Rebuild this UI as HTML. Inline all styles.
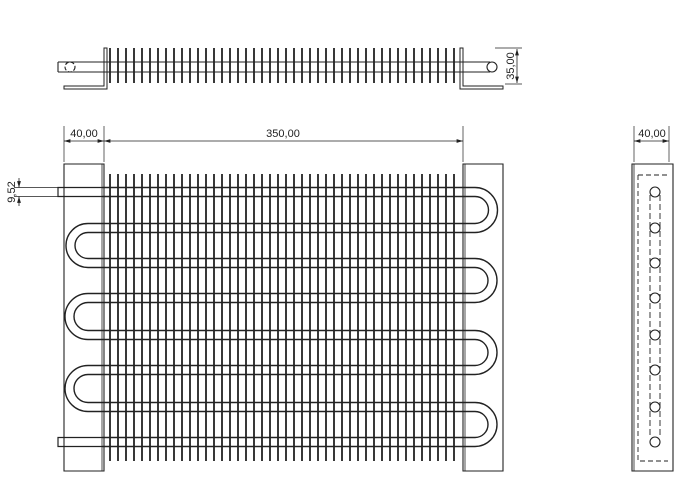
<!DOCTYPE html>
<html><head><meta charset="utf-8"><style>
html,body{margin:0;padding:0;background:#fff;width:700px;height:497px;overflow:hidden}
text{font-family:"Liberation Sans",sans-serif;font-size:11px;fill:#222;stroke:none}
</style></head><body>
<svg width="700" height="497" viewBox="0 0 700 497" xmlns="http://www.w3.org/2000/svg">
<defs>
<marker id="a" viewBox="0 0 10 6" refX="10" refY="3" markerWidth="8" markerHeight="5" orient="auto-start-reverse"><path d="M0 0L10 3L0 6z" fill="#222" stroke="none"/></marker>
</defs>
<g id="all" fill="none" stroke="#222" stroke-width="1.1"></g>
</svg>
<script>
var g=document.getElementById('all');var s='';
function L(d,w,extra){s+='<path d="'+d+'"'+(w?' stroke-width="'+w+'"':'')+(extra||'')+'/>';}
var f='';for(var x=110;x<=454;x+=8)f+='M'+x+' 48V83';L(f,1.8);
L('M58 62H490M58 72H490M58 62V72');
L('M104 48V86H64V89H107V48z',1);
L('M463 48V86H503V89H460V48z',1);
s+='<circle cx="70" cy="67" r="5" stroke-dasharray="4 2"/><circle cx="492" cy="67" r="5"/>';
L('M495 48H522M505 84H522',0.7);
s+='<line x1="517" y1="49" x2="517" y2="83" stroke-width="0.8" marker-start="url(#a)" marker-end="url(#a)"/>';
s+='<text transform="translate(514,66) rotate(-90)" text-anchor="middle">35,00</text>';
L('M64 164H104V471H64z');L('M102 164V471',0.8);
L('M463 164H503V471H463z');L('M465 164V471',0.8);
f='';for(var x=110;x<=454;x+=8)f+='M'+x+' 174V461';L(f,1.8);
var c=[192,228,263,298,335,370,407,442];
var t='';for(var i=0;i<c.length;i++){t+='M102 '+(c[i]-4.5)+'H463M102 '+(c[i]+4.5)+'H463';}
L(t,1.4);
L('M102 187.5H58V196.5H102M102 437.5H58V446.5H102',1.2);
function bend(c1,c2,right){var ro=(c2-c1+9)/2,ri=(c2-c1-9)/2;
 if(right){L('M463 '+(c1-4.5)+'H475A'+ro+' '+ro+' 0 0 1 475 '+(c2+4.5)+'H463M463 '+(c1+4.5)+'H475A'+ri+' '+ri+' 0 0 1 475 '+(c2-4.5)+'H463',1.4);}
 else{L('M102 '+(c1-4.5)+'H88A'+ro+' '+ro+' 0 0 0 88 '+(c2+4.5)+'H102M102 '+(c1+4.5)+'H88A'+ri+' '+ri+' 0 0 0 88 '+(c2-4.5)+'H102',1.4);}}
bend(192,228,1);bend(263,298,1);bend(335,370,1);bend(407,442,1);
bend(228,263,0);bend(298,335,0);bend(370,407,0);
L('M64 162V126M104 162V126M463 162V126M634 162V126M669 162V126',0.7);
s+='<line x1="64" y1="141" x2="104" y2="141" stroke-width="0.8" marker-start="url(#a)" marker-end="url(#a)"/>';
s+='<line x1="104" y1="141" x2="463" y2="141" stroke-width="0.8" marker-start="url(#a)" marker-end="url(#a)"/>';
s+='<line x1="634" y1="141" x2="669" y2="141" stroke-width="0.8" marker-start="url(#a)" marker-end="url(#a)"/>';
s+='<text x="84" y="137" text-anchor="middle">40,00</text><text x="283" y="137" text-anchor="middle">350,00</text><text x="652" y="137" text-anchor="middle">40,00</text>';
L('M14 187.5H58M14 196.5H58',0.7);
s+='<line x1="19" y1="178" x2="19" y2="187.5" stroke-width="0.8" marker-end="url(#a)"/><line x1="19" y1="206" x2="19" y2="196.5" stroke-width="0.8" marker-end="url(#a)"/>';
s+='<text transform="translate(15,192) rotate(-90)" text-anchor="middle">9,52</text>';
L('M632 164H673V471H632z');L('M634 164V471',0.8);
L('M638 175H668M638 175V461H668',0.9,' stroke-dasharray="5 3"');
L('M650 195V437M660 195V437',0.9,' stroke-dasharray="6 3"');
for(var i=0;i<c.length;i++)s+='<circle cx="655" cy="'+c[i]+'" r="5" fill="#fff"/>';
g.innerHTML=s;
</script>
</body></html>
